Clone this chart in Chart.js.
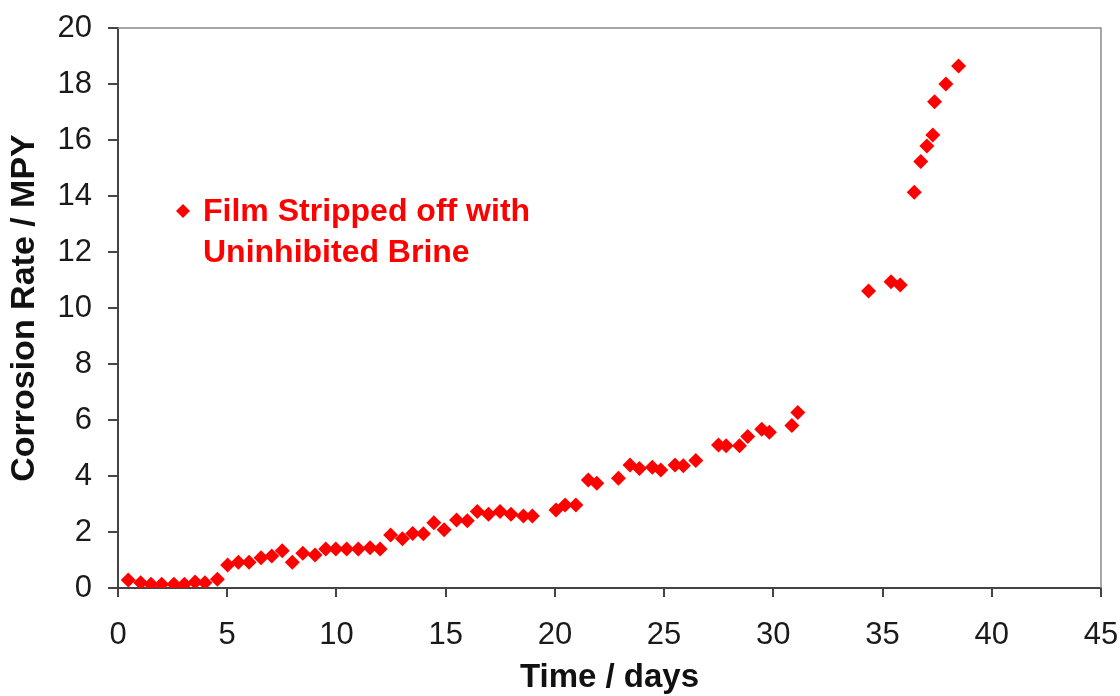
<!DOCTYPE html>
<html>
<head>
<meta charset="utf-8">
<script src="https://cdn.jsdelivr.net/npm/chart.js@4"></script>
<style>
  body { margin: 0; background: #fff; }
  #wrap { width: 1120px; height: 696px; }
</style>
</head>
<body>
<div id="wrap"><canvas id="rateChart" width="1120" height="696"></canvas></div>
<script>
// Data
const days = [0.47, 1.04, 1.51, 2.0, 2.56, 3.04, 3.53, 3.98, 4.55,
  5.02, 5.51, 6.0, 6.55, 7.04, 7.52, 7.98, 8.46, 9.02, 9.51,
  9.97, 10.47, 11.0, 11.54, 12.0, 12.48, 13.02, 13.49, 13.98, 14.46,
  14.93, 15.5, 15.99, 16.45, 16.96, 17.49, 17.99, 18.56, 18.97, 20.05,
  20.47, 20.96, 21.53, 21.92, 22.91, 23.44, 23.87, 24.46, 24.85, 25.5,
  25.88, 26.45, 27.49, 27.84, 28.45, 28.83, 29.47, 29.82, 30.85, 31.12,
  34.36, 35.39, 35.81, 36.45, 36.75, 37.03, 37.30, 37.38, 37.9, 38.48];
const rates = [0.29, 0.19, 0.13, 0.13, 0.13, 0.13, 0.21, 0.19, 0.31,
  0.82, 0.92, 0.92, 1.08, 1.14, 1.33, 0.92, 1.24, 1.18, 1.39,
  1.39, 1.39, 1.39, 1.44, 1.39, 1.89, 1.76, 1.95, 1.94, 2.33,
  2.08, 2.43, 2.40, 2.73, 2.63, 2.73, 2.63, 2.57, 2.57, 2.79,
  2.96, 2.96, 3.86, 3.74, 3.92, 4.39, 4.27, 4.31, 4.21, 4.39,
  4.37, 4.55, 5.11, 5.08, 5.08, 5.41, 5.67, 5.56, 5.80, 6.27,
  10.61, 10.94, 10.82, 14.13, 15.23, 15.79, 16.18, 17.37, 18.0, 18.64];
const xTicks = { min: 0, max: 45, step: 5 };
const yTicks = { min: 0, max: 20, step: 2 };
const legendLines = ['Film Stripped off with', 'Uninhibited Brine'];

const FONT = "'Liberation Sans', Arial, sans-serif";
const RED = '#ff0000';

// frame round the plot area (top and right sides)
const framePlugin = {
  id: 'frame',
  beforeDatasetsDraw(chart) {
    const { ctx, chartArea: a } = chart;
    ctx.save();
    ctx.strokeStyle = '#8a8a8a';
    ctx.lineWidth = 1.5;
    ctx.beginPath();
    ctx.moveTo(a.left, a.top);
    ctx.lineTo(a.right, a.top);
    ctx.lineTo(a.right, a.bottom);
    ctx.stroke();
    ctx.restore();
  }
};

// in-plot legend with a two line label
const legendPlugin = {
  id: 'inLegend',
  afterDraw(chart) {
    const ctx = chart.ctx;
    ctx.save();
    ctx.fillStyle = RED;
    // diamond marker
    const mx = 183, my = 211, r = 7;
    ctx.beginPath();
    ctx.moveTo(mx, my - r);
    ctx.lineTo(mx + r, my);
    ctx.lineTo(mx, my + r);
    ctx.lineTo(mx - r, my);
    ctx.closePath();
    ctx.fill();
    ctx.font = 'bold 32px ' + FONT;
    ctx.textBaseline = 'alphabetic';
    ctx.textAlign = 'left';
    legendLines.forEach((line, i) => {
      ctx.fillText(line, 203, 221 + i * 41);
    });
    ctx.restore();
  }
};

const ctx = document.getElementById('rateChart').getContext('2d');
new Chart(ctx, {
  type: 'scatter',
  data: {
    datasets: [{
      label: legendLines.join(' '),
      data: days.map((d, i) => ({ x: d, y: rates[i] })),
      pointStyle: 'rectRot',
      pointRadius: 7.5,
      pointHoverRadius: 7.5,
      backgroundColor: RED,
      borderColor: RED,
      borderWidth: 0
    }]
  },
  options: {
    responsive: false,
    animation: false,
    layout: { padding: { top: 28, right: 19, left: 0, bottom: 0 } },
    plugins: {
      legend: { display: false },
      tooltip: { enabled: false }
    },
    scales: {
      x: {
        type: 'linear',
        min: xTicks.min,
        max: xTicks.max,
        afterFit: (s) => {
          s.height = 108;
          s.paddingLeft = 0;
          s.paddingRight = 0;
        },
        ticks: {
          stepSize: xTicks.step,
          color: '#1a1a1a',
          font: { family: FONT, size: 31 },
          padding: 20,
          maxRotation: 0
        },
        grid: { drawOnChartArea: false, drawTicks: true, tickLength: 9, color: '#444', lineWidth: 2 },
        border: { color: '#444', width: 2 },
        title: {
          display: true,
          text: 'Time / days',
          color: '#111',
          font: { family: FONT, size: 33, weight: 'bold', lineHeight: 1.1 },
          padding: { top: 0, bottom: 0 }
        }
      },
      y: {
        min: yTicks.min,
        max: yTicks.max,
        afterFit: (s) => {
          s.width = 118;
          s.paddingTop = 0;
          s.paddingBottom = 0;
        },
        ticks: {
          stepSize: yTicks.step,
          color: '#1a1a1a',
          font: { family: FONT, size: 31 },
          padding: 16
        },
        grid: { drawOnChartArea: false, drawTicks: true, tickLength: 10, color: '#444', lineWidth: 2 },
        border: { color: '#444', width: 2 },
        title: {
          display: true,
          text: 'Corrosion Rate / MPY',
          color: '#111',
          font: { family: FONT, size: 34, weight: 'bold', lineHeight: 1.1 },
          padding: { top: 6, bottom: 0 }
        }
      }
    }
  },
  plugins: [framePlugin, legendPlugin]
});
</script>
</body>
</html>
